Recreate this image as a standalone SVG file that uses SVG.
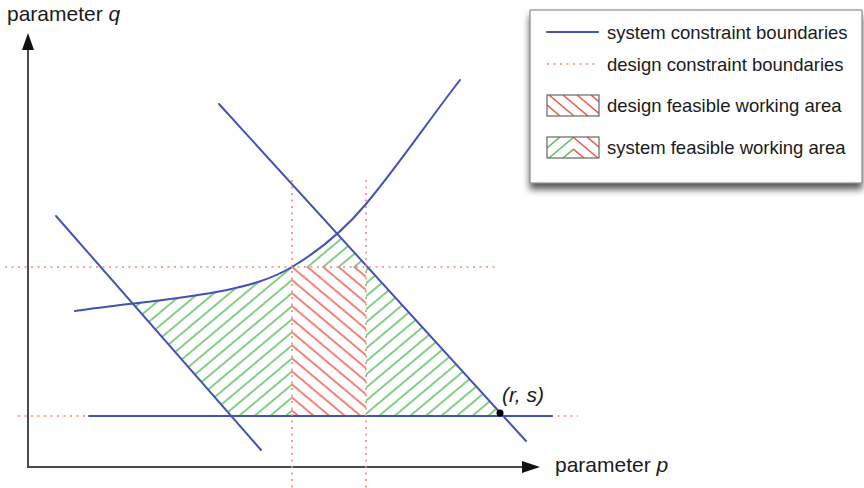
<svg xmlns="http://www.w3.org/2000/svg" width="864" height="488" viewBox="0 0 864 488">
  <style>
    .txt { font-family: "Liberation Sans", Arial, sans-serif; fill: #1a1a1a; }
    .lg { font-size: 18.5px; }
    .ax { font-size: 21px; }
    .it { font-style: italic; }
    .sys { fill: none; stroke: #4252b5; stroke-width: 2; stroke-linecap: round; }
    .des { fill: none; stroke: #f2877a; stroke-width: 1.6; stroke-dasharray: 2 4.5; }
    .axis { fill: none; stroke: #4a4a4a; stroke-width: 2; }
    .gh { stroke: #5cbf5c; stroke-width: 1.5; fill: none; }
    .rh { stroke: #ee5a4a; stroke-width: 1.5; fill: none; }
  </style>
  <defs>
    <pattern id="greenHatch" patternUnits="userSpaceOnUse" width="20" height="10" patternTransform="translate(292,267) rotate(-40) translate(0,-5)">
      <path class="gh" d="M-1,5 H21"/>
    </pattern>
    <pattern id="redHatch" patternUnits="userSpaceOnUse" width="20" height="10" patternTransform="translate(292,267) rotate(40) translate(0,-5)">
      <path class="rh" d="M-1,5 H21"/>
    </pattern>
    <clipPath id="triangle">
      <polygon points="-133,0 124,0 503,416 231,416"/>
    </clipPath>
    <clipPath id="belowCurve">
      <path d="M75,311 C125,303.5 177,300 227,290 C249,285 270,280 292,267 C317,252 341,234 366,204 C397,167 429,120 460,80 L600,80 L600,500 L0,500 L0,311 Z"/>
    </clipPath>
    <clipPath id="sw1"><rect x="547" y="95" width="52" height="21"/></clipPath>
    <clipPath id="sw2"><rect x="547" y="137" width="52" height="21"/></clipPath>
    <filter id="shadow" x="-10%" y="-10%" width="120%" height="130%">
      <feDropShadow dx="0" dy="6" stdDeviation="3.5" flood-color="#000" flood-opacity="0.65"/>
    </filter>
  </defs>

  <!-- hatched areas -->
  <g id="system-feasible-area" clip-path="url(#belowCurve)">
    <rect x="0" y="0" width="600" height="500" fill="url(#greenHatch)" clip-path="url(#triangle)"/>
  </g>
  <g id="design-feasible-area" clip-path="url(#triangle)">
    <rect x="292" y="267" width="74" height="149" fill="#fff"/>
    <rect x="292" y="267" width="74" height="149" fill="url(#redHatch)"/>
  </g>

  <!-- axes -->
  <g id="axes">
    <path class="axis" d="M28,467 V48 M27,467 H524"/>
    <polygon points="28,33 22,50 34,50" fill="#111"/>
    <polygon points="540,467 522,461 522,473" fill="#111"/>
    <text class="txt ax" x="7" y="21">parameter <tspan class="it">q</tspan></text>
    <text class="txt ax" x="555" y="472">parameter <tspan class="it">p</tspan></text>
  </g>

  <!-- connectors: constraint boundaries -->
  <g id="connectors">
    <path id="design-line-bottom" class="des" d="M18,416 H578"/>
    <path id="system-line-left" class="sys" d="M56,216 L261,450"/>
    <path id="system-line-right" class="sys" d="M219,104 L526,441"/>
    <path id="system-line-bottom" class="sys" d="M89,416 H552"/>
    <path id="system-curve" class="sys" d="M75,311 C125,303.5 177,300 227,290 C249,285 270,280 292,267 C317,252 341,234 366,204 C397,167 429,120 460,80"/>
    <path id="design-line-top" class="des" d="M5,267 H495"/>
    <path id="design-line-left" class="des" d="M292,180 V488"/>
    <path id="design-line-right" class="des" d="M366,180 V488"/>
  </g>

  <g id="point-rs">
    <circle cx="500" cy="413" r="3.5" fill="#000"/>
    <text class="txt ax it" x="502" y="402">(r, s)</text>
  </g>

  <!-- legend -->
  <g id="legend">
    <rect x="530" y="10" width="332" height="173" fill="#fff" stroke="#777" stroke-width="1" filter="url(#shadow)"/>
    <path class="sys" d="M547,32 H598"/>
    <text class="txt lg" x="607" y="39">system constraint boundaries</text>
    <path class="des" d="M547,64 H599"/>
    <text class="txt lg" x="607" y="71">design constraint boundaries</text>
    <g clip-path="url(#sw1)">
      <path class="rh" d="M535,95 L560,116 M549,95 L574,116 M563,95 L588,116 M577,95 L602,116 M591,95 L616,116"/>
    </g>
    <rect x="547" y="95" width="52" height="21" fill="none" stroke="#666" stroke-width="1.2"/>
    <text class="txt lg" x="607" y="112">design feasible working area</text>
    <g clip-path="url(#sw2)">
      <path class="gh" d="M535,158 L560,137 M549,158 L574,137 M563,158 L573,149.6"/>
      <path class="rh" d="M573,137 L598,158 M587,137 L612,158 M573,148.8 L584,158"/>
    </g>
    <rect x="547" y="137" width="52" height="21" fill="none" stroke="#666" stroke-width="1.2"/>
    <text class="txt lg" x="607" y="154">system feasible working area</text>
  </g>
</svg>
